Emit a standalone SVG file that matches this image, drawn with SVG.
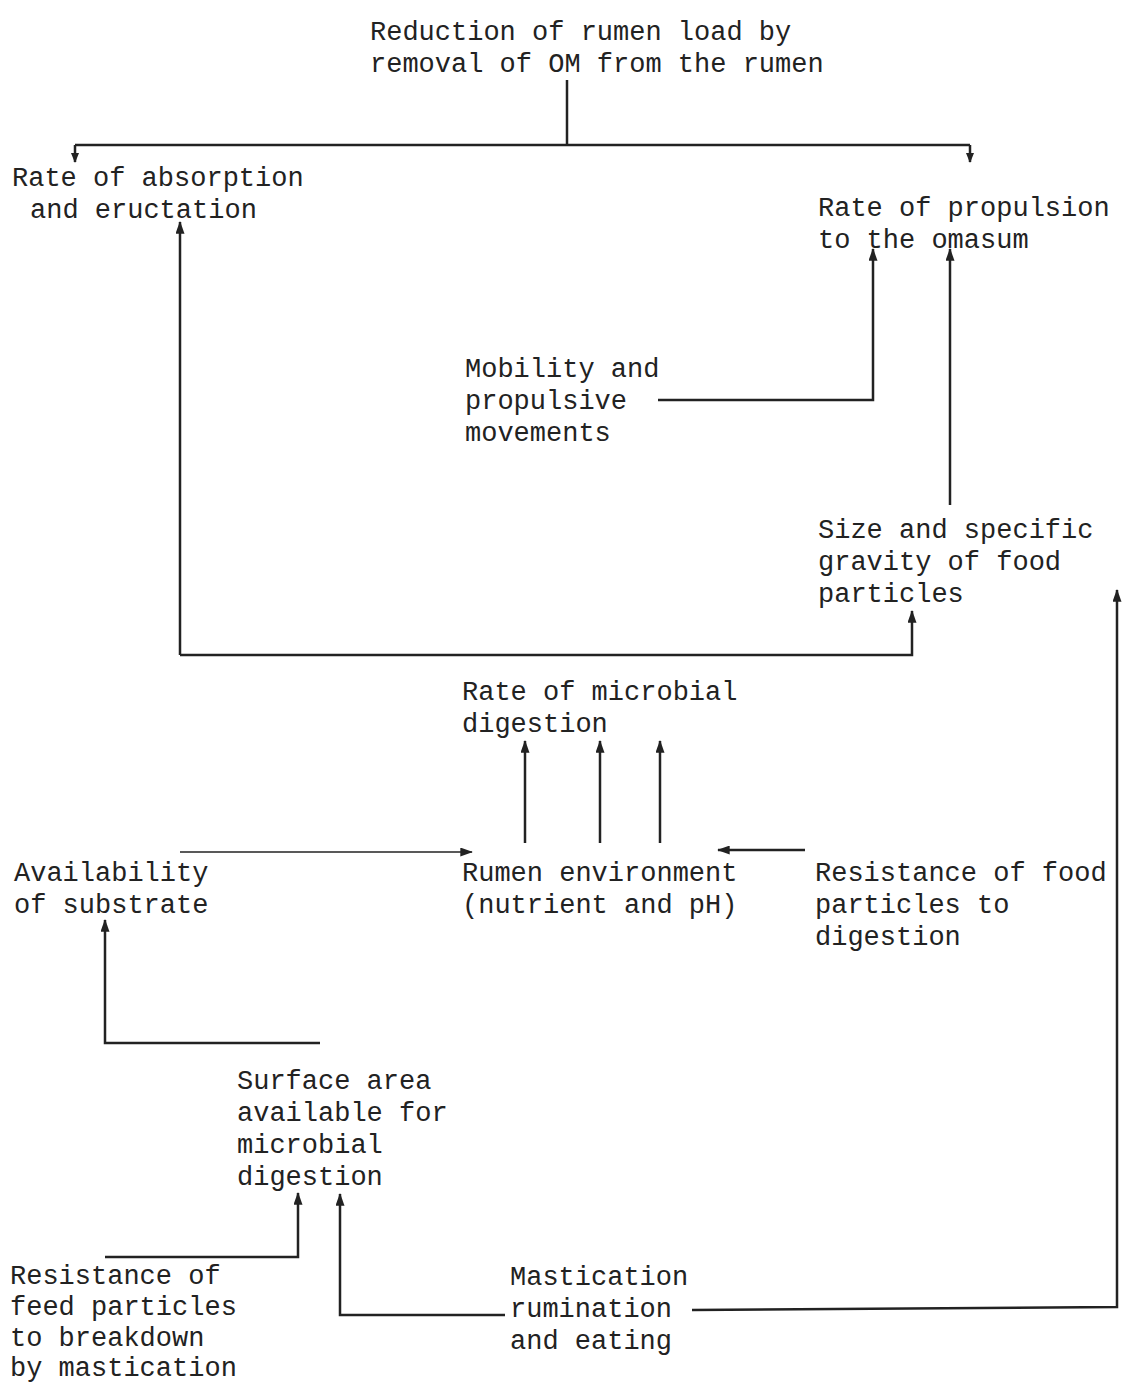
<svg xmlns="http://www.w3.org/2000/svg" width="1124" height="1384" viewBox="0 0 1124 1384">
<defs>
<marker id="ah" viewBox="0 0 14 10" refX="13" refY="5" markerWidth="14" markerHeight="9" markerUnits="userSpaceOnUse" orient="auto">
<path d="M0,0 L14,5 L0,10 z" fill="#222"/>
</marker>
<marker id="ahs" viewBox="0 0 10 8" refX="9" refY="4" markerWidth="10" markerHeight="8" markerUnits="userSpaceOnUse" orient="auto">
<path d="M0,0 L10,4 L0,8 z" fill="#222"/>
</marker>
</defs>
<style>
text{font-family:"Liberation Mono","DejaVu Sans Mono",monospace;font-size:27px;fill:#222;}
.c{fill:none;stroke:#222;stroke-width:2.5;}
.t{stroke-width:1.5;}
</style>
<rect width="1124" height="1384" fill="#fff"/>
<g id="n-reduction"><text x="370" y="40">Reduction of rumen load by</text><text x="370" y="72">removal of OM from the rumen</text></g>
<g id="n-absorption"><text x="12" y="186">Rate of absorption</text><text x="30" y="218">and eructation</text></g>
<g id="n-propulsion"><text x="818" y="216">Rate of propulsion</text><text x="818" y="248">to the omasum</text></g>
<g id="n-mobility"><text x="465" y="377">Mobility and</text><text x="465" y="409">propulsive</text><text x="465" y="441">movements</text></g>
<g id="n-size"><text x="818" y="538">Size and specific</text><text x="818" y="570">gravity of food</text><text x="818" y="602">particles</text></g>
<g id="n-microbial"><text x="462" y="700">Rate of microbial</text><text x="462" y="732">digestion</text></g>
<g id="n-availability"><text x="14" y="881">Availability</text><text x="14" y="913">of substrate</text></g>
<g id="n-rumen"><text x="462" y="881">Rumen environment</text><text x="462" y="913">(nutrient and pH)</text></g>
<g id="n-resistance-food"><text x="815" y="881">Resistance of food</text><text x="815" y="913">particles to</text><text x="815" y="945">digestion</text></g>
<g id="n-surface"><text x="237" y="1089">Surface area</text><text x="237" y="1121">available for</text><text x="237" y="1153">microbial</text><text x="237" y="1185">digestion</text></g>
<g id="n-resistance-feed"><text x="10" y="1284">Resistance of</text><text x="10" y="1315">feed particles</text><text x="10" y="1346">to breakdown</text><text x="10" y="1376">by mastication</text></g>
<g id="n-mastication"><text x="510" y="1285">Mastication</text><text x="510" y="1317">rumination</text><text x="510" y="1349">and eating</text></g>
<g id="connectors">
<path class="c" d="M567,80 V145"/>
<path class="c" d="M75,145 H970"/>
<path class="c" d="M75,145 V162" marker-end="url(#ahs)"/>
<path class="c" d="M970,145 V162" marker-end="url(#ahs)"/>
<path class="c" d="M180,655 V222" marker-end="url(#ah)"/>
<path class="c" d="M180,655 H912 V611" marker-end="url(#ah)"/>
<path class="c" d="M658,400 H873 V249" marker-end="url(#ah)"/>
<path class="c" d="M950,505 V249" marker-end="url(#ah)"/>
<path class="c" d="M525,843 V741" marker-end="url(#ah)"/>
<path class="c" d="M600,843 V741" marker-end="url(#ah)"/>
<path class="c" d="M660,843 V741" marker-end="url(#ah)"/>
<path class="c t" d="M180,852 H472" marker-end="url(#ah)"/>
<path class="c" d="M805,850 H718" marker-end="url(#ah)"/>
<path class="c" d="M320,1043 H105 V920" marker-end="url(#ah)"/>
<path class="c" d="M105,1257 H298 V1193" marker-end="url(#ah)"/>
<path class="c" d="M505,1315 H340 V1194" marker-end="url(#ah)"/>
<path class="c" d="M692,1310 L1117,1307 V590" marker-end="url(#ah)"/>
</g>
</svg>
